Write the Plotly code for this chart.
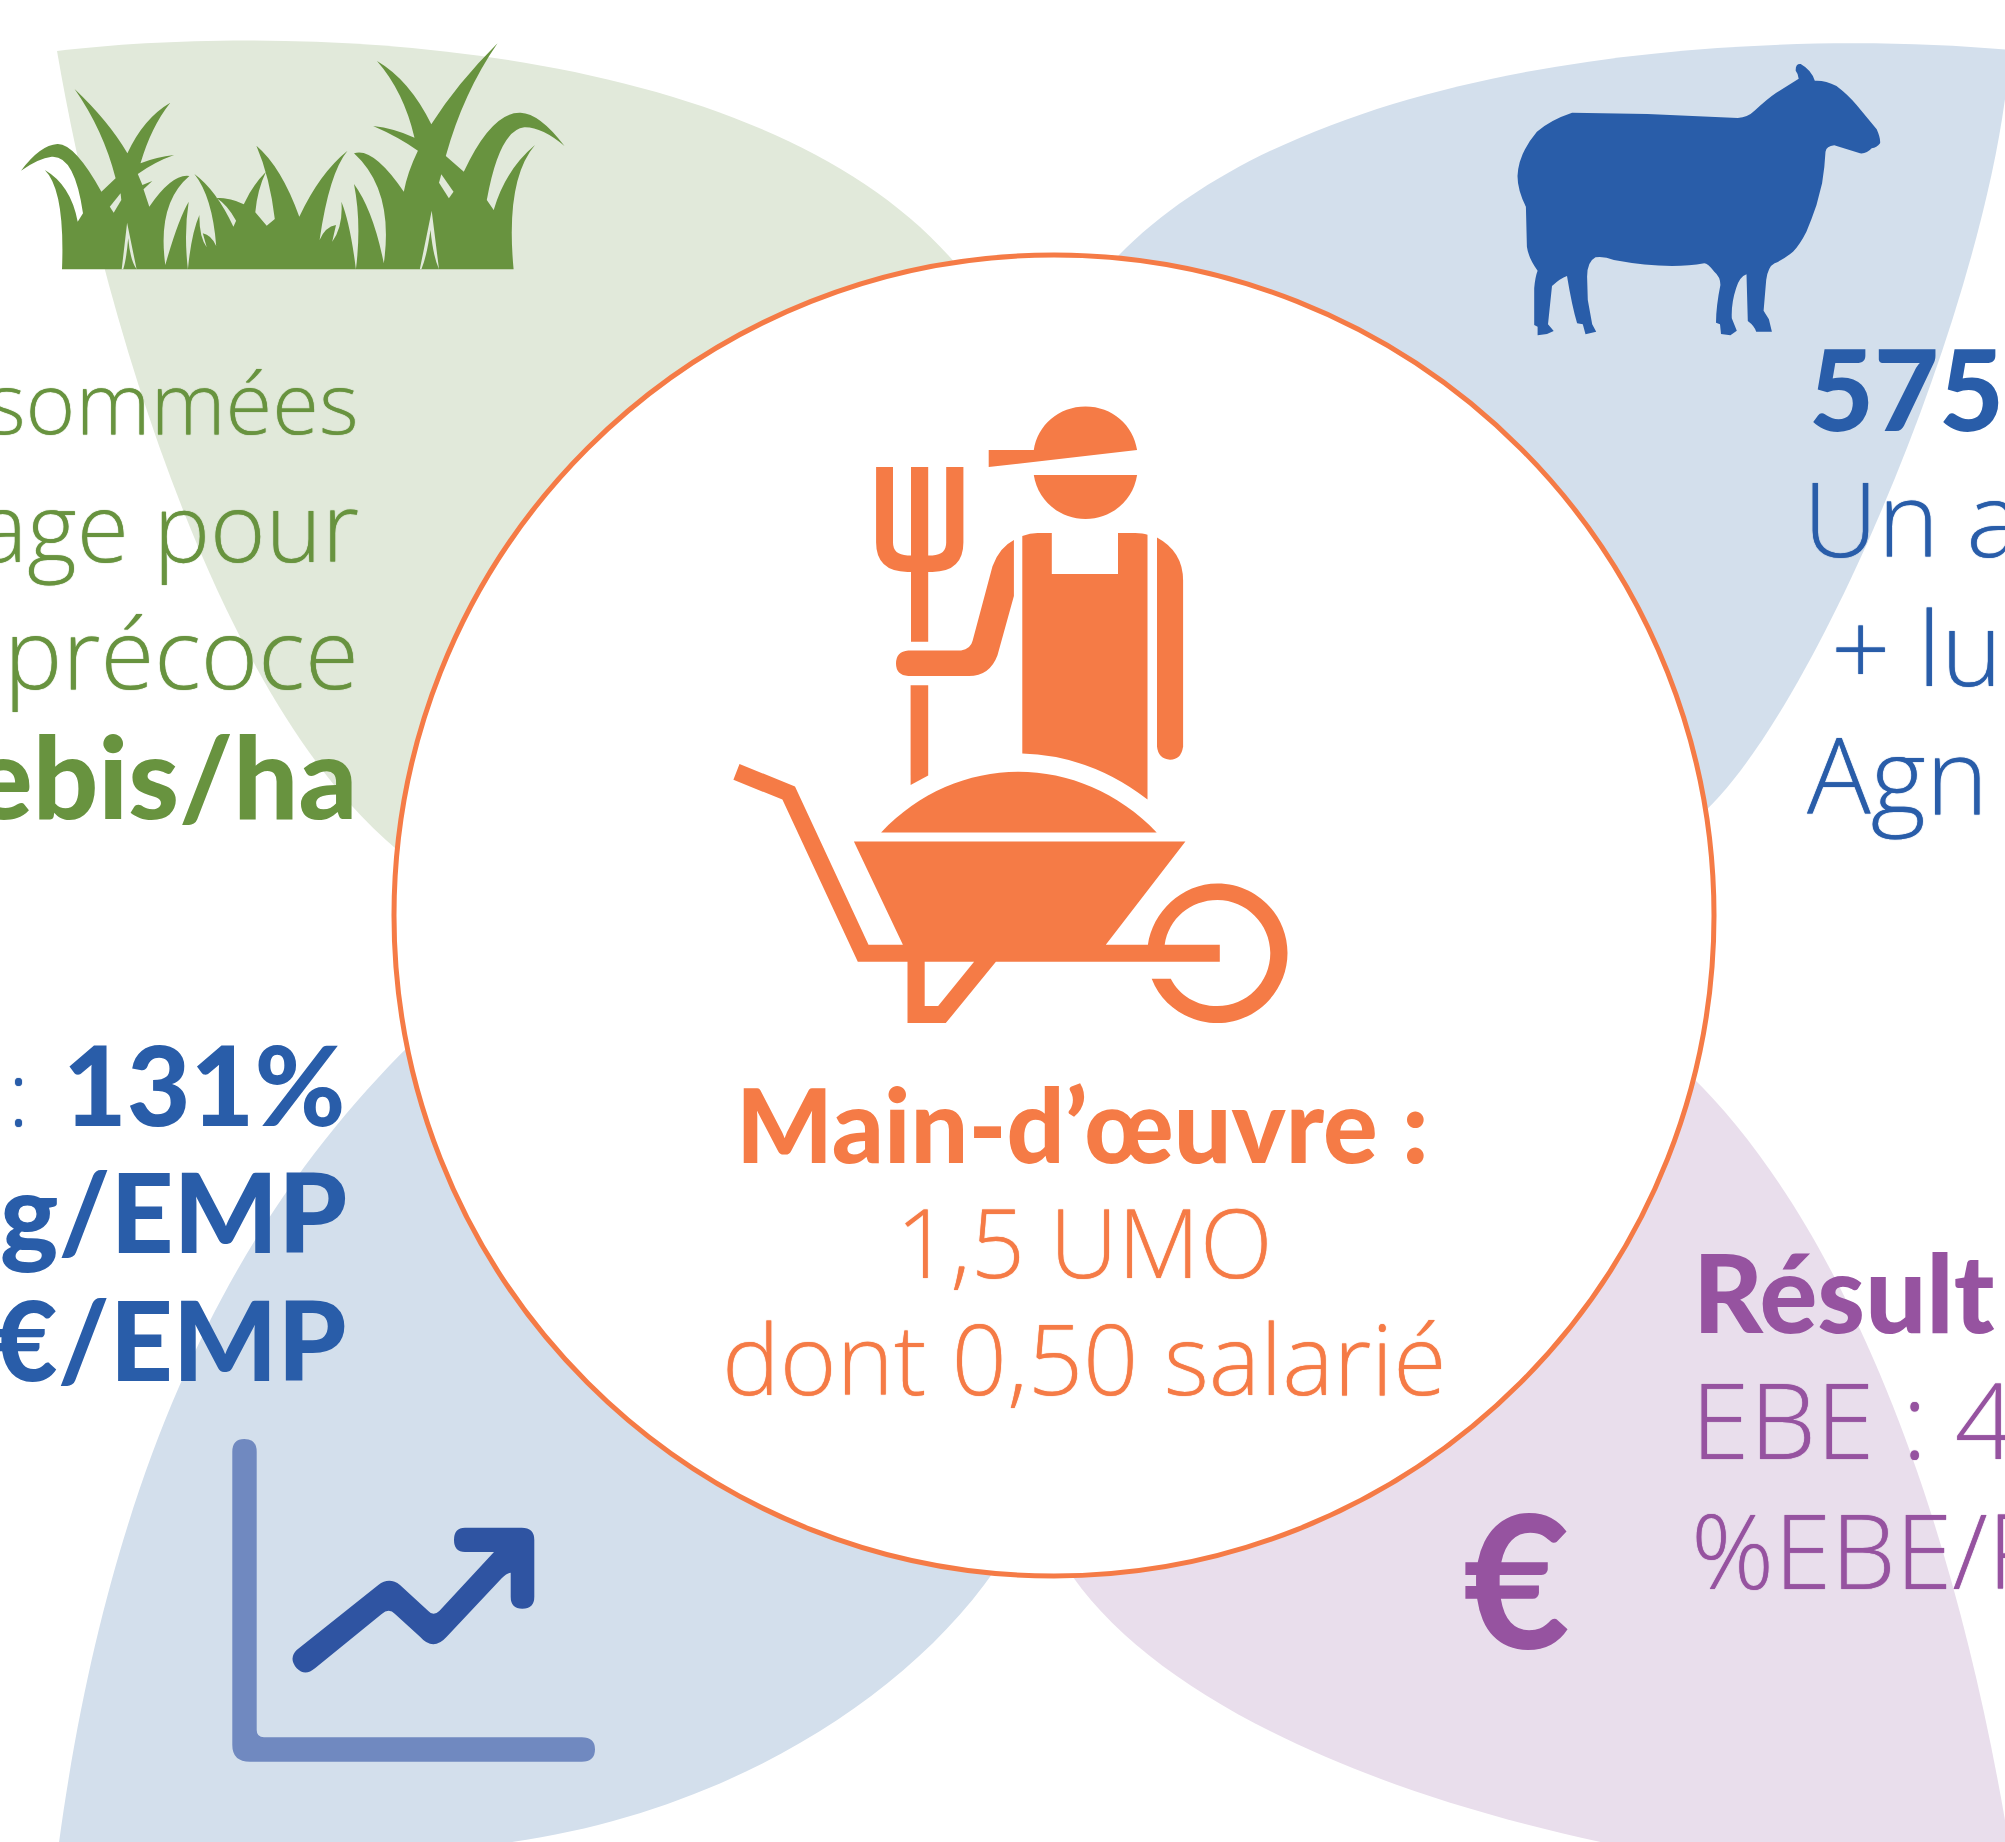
import re
import plotly.graph_objects as go

W, H = 2005, 1842
GREEN, BLUE, ORANGE, PURPLE = "#68933f", "#295da9", "#f57b46", "#9653a0"
LIGHT = "Open Sans"
BOLD = "Lato"
DESCENT = {"Open Sans": 0.293, "Lato": 0.213}

left_lines = ["sommées", "age pour", "précoce"]
left_bold = ["ebis/ha"]
right_top_bold = ["575"]
right_top = ["Un a", "+ lu", "Agn"]
left_low_light = [":"]
left_low_bold = ["131%", "g/EMP", "€/EMP"]
centre_bold = ["Main-d’œuvre :"]
centre = ["1,5 UMO", "dont 0,50 salarié"]
right_low_bold = ["Résult"]
right_low = ["EBE : 4", "%EBE/PB"]
euro = ["€"]

# text, anchor x, baseline y, size, colour, weight, family, xanchor
texts = [
    (left_lines[0], 360, 435, 85, GREEN, 300, LIGHT, "right"),
    (left_lines[1], 360, 563, 95, GREEN, 300, LIGHT, "right"),
    (left_lines[2], 360, 690, 98, GREEN, 300, LIGHT, "right"),
    (left_bold[0], 358, 819, 115, GREEN, 900, BOLD, "right"),
    (right_top_bold[0], 1808, 432, 112, BLUE, 900, BOLD, "left"),
    (right_top[0], 1802, 558, 104, BLUE, 300, LIGHT, "left"),
    (right_top[1], 1830, 687, 104, BLUE, 300, LIGHT, "left"),
    (right_top[2], 1806, 815, 106, BLUE, 300, LIGHT, "left"),
    (left_low_light[0], 30, 1127, 88, BLUE, 300, LIGHT, "right"),
    (left_low_bold[0], 346, 1127, 110, BLUE, 900, BOLD, "right"),
    (left_low_bold[1], 348, 1254, 110, BLUE, 900, BOLD, "right"),
    (left_low_bold[2], 348, 1382, 110, BLUE, 900, BOLD, "right"),
    (centre_bold[0], 1082, 1164, 102, ORANGE, 900, BOLD, "center"),
    (centre[0], 1084, 1279, 95, ORANGE, 300, LIGHT, "center"),
    (centre[1], 1084, 1396, 97, ORANGE, 300, LIGHT, "center"),
    (right_low_bold[0], 1692, 1334, 108, PURPLE, 900, BOLD, "left"),
    (right_low[0], 1690, 1460, 106, PURPLE, 300, LIGHT, "left"),
    (right_low[1], 1690, 1590, 103, PURPLE, 300, LIGHT, "left"),
    (euro[0], 1516, 1650, 185, PURPLE, 700, BOLD, "center"),
]


def local(path, ox, oy, kx, ky):
    """Convert a path drawn in an icon's own grid into page units."""
    i = [0]

    def sub(m):
        v = float(m.group())
        r = v / kx + ox if i[0] % 2 == 0 else v / ky + oy
        i[0] += 1
        return f"{r:.1f}"
    return re.sub(r"\d+(?:\.\d+)?", sub, path)


petals = [
    ("#e1e9da", "M 57,51 C 300,22 780,40 965,275 L 700,600 L 410,860 "
                "C 225,720 105,330 57,51 Z"),
    ("#d3dfec", "M 2010,50 C 1770,28 1300,50 1105,270 L 1400,600 L 1695,820 "
                "C 1810,727 1995,290 2010,50 Z"),
    ("#d3dfec", "M 58,1850 C 117,1408 270,1180 420,1035 L 700,1300 L 1005,1555 "
                "C 900,1720 660,1850 400,1850 Z"),
    ("#e9deec", "M 1690,1075 C 1830,1210 1950,1480 2010,1850 L 1640,1850 "
                "C 1380,1800 1150,1700 1065,1565 L 1400,1300 Z"),
]

grass = ("M 162,718 Q 170,480 117,420 Q 185,465 203,575 L 217,550 Q 195,375 135,380 "
         "Q 100,385 55,422 Q 105,345 150,342 Q 195,340 265,485 L 302,445 Q 270,300 195,177 "
         "Q 285,275 333,370 Q 375,265 445,218 Q 395,290 367,400 Q 410,380 455,375 "
         "Q 405,395 360,432 L 372,465 L 398,453 L 375,478 L 390,530 Q 450,430 495,438 "
         "Q 410,520 432,705 Q 465,570 493,515 Q 480,610 491,718 Q 500,610 521,555 "
         "Q 520,620 540,652 L 530,610 Q 552,615 565,648 Q 555,500 508,432 Q 565,480 610,590 "
         "L 617,572 Q 595,525 565,503 Q 605,503 637,523 Q 660,465 695,425 Q 672,480 667,547 "
         "L 697,587 L 718,567 Q 705,440 670,347 Q 735,410 782,560 Q 835,430 908,362 "
         "Q 860,430 835,630 Q 850,590 878,585 L 868,635 Q 897,590 892,515 Q 915,580 930,718 "
         "Q 945,580 925,462 Q 975,540 1003,700 Q 1030,480 925,370 Q 975,350 1055,485 "
         "Q 1065,425 1092,362 Q 1040,320 975,288 Q 1030,295 1083,323 Q 1055,185 985,93 "
         "Q 1070,150 1127,283 Q 1195,160 1300,40 Q 1210,190 1165,378 L 1212,425 "
         "Q 1285,245 1360,248 Q 1410,250 1475,348 Q 1415,290 1370,292 Q 1305,300 1272,510 "
         "L 1290,540 Q 1320,420 1398,345 Q 1320,450 1342,718 Z")
grass_gaps = [
    "M 318,718 L 332,578 L 357,718 Q 340,690 335,625 Q 330,690 322,718 Z",
    "M 1097,718 L 1128,542 L 1147,718 Q 1132,680 1125,600 Q 1115,680 1101,718 Z",
    "M 287,530 L 315,490 L 317,510 L 297,548 Z",
    "M 1147,458 L 1153,433 L 1185,485 L 1173,505 Z",
]

sheep = ("M 112,408 Q 115,340 170,275 Q 210,240 275,218 L 500,222 L 770,234 Q 800,232 820,212 "
         "Q 860,175 885,158 L 952,116 Q 950,100 943,92 Q 942,70 958,72 Q 990,90 1000,122 "
         "Q 1030,120 1065,138 Q 1100,165 1125,195 L 1185,268 Q 1197,295 1195,310 Q 1185,323 1170,325 "
         "Q 1155,342 1135,340 L 1058,316 Q 1035,318 1032,335 Q 1030,380 1022,430 L 1005,495 "
         "Q 990,540 975,575 Q 955,615 935,635 Q 905,660 880,670 Q 860,680 855,720 L 847,812 "
         "L 863,838 L 872,875 L 825,875 Q 820,858 800,843 L 796,703 Q 775,710 765,745 Q 750,790 752,835 "
         "L 767,872 L 748,886 L 720,882 L 717,853 L 705,848 Q 705,800 718,735 Q 718,710 700,695 "
         "Q 680,670 670,670 Q 560,690 400,660 Q 370,648 345,652 Q 320,665 320,710 L 322,780 L 335,853 "
         "L 347,875 L 315,883 L 307,853 L 290,850 Q 275,800 260,708 Q 240,715 215,738 L 203,853 "
         "L 220,873 L 200,882 L 172,886 L 172,860 L 162,855 L 162,745 Q 165,710 172,692 "
         "Q 145,655 140,620 L 137,500 Q 112,450 112,408 Z")

farmer = [
    "M 702,145 L 820,145 C 830,85 885,40 955,40 C 1025,40 1080,85 1090,145 L 702,186 Z",
    "M 820,205 L 1090,205 C 1080,265 1025,311 955,311 C 885,311 830,265 820,205 Z",
    "M 408,186 L 452,186 L 452,368 Q 452,398 490,399 L 499,399 L 499,186 L 544,186 L 544,399 "
    "L 555,399 Q 591,398 591,368 L 591,186 L 636,186 L 636,368 Q 636,438 555,439 L 544,439 "
    "L 544,607 L 499,607 L 499,439 L 490,439 Q 408,438 408,368 Z",
    "M 498,712 L 544,712 L 544,930 L 498,953 Z",
    "M 768,362 L 768,497 L 725,640 Q 705,690 650,690 L 492,690 Q 460,688 460,660 Q 460,630 492,628 "
    "L 630,628 Q 655,625 660,605 L 712,425 Q 730,380 768,362 Z",
    "M 790,352 Q 810,345 830,345 L 867,345 L 867,444 L 1040,444 L 1040,345 L 1085,345 Q 1105,345 1117,349 "
    "L 1117,988 Q 970,882 790,877 Z",
    "M 1142,356 Q 1210,390 1210,460 L 1210,860 Q 1205,892 1176,892 Q 1145,890 1142,860 Z",
    "M 421,1067 C 520,970 650,921 780,921 C 910,921 1040,970 1141,1067 Z",
    "M 350,1089 L 1216,1089 L 1008,1338 L 1118,1338 C 1130,1260 1205,1190 1300,1190 C 1400,1190 1483,1265 1483,1358 "
    "C 1483,1450 1400,1527 1300,1527 C 1225,1527 1155,1485 1128,1420 L 1178,1420 C 1200,1460 1245,1486 1300,1486 "
    "C 1375,1486 1438,1430 1438,1358 C 1438,1288 1375,1230 1300,1230 C 1230,1230 1172,1275 1162,1338 L 1306,1338 "
    "L 1306,1379 L 721,1379 L 590,1527 L 490,1527 L 490,1379 L 360,1379 L 163,988 L 35,940 L 51,902 L 196,956 "
    "L 388,1338 L 478,1338 Z",
]
barrow_hole = "M 535,1379 L 664,1379 L 570,1486 L 535,1486 Z"

axes_icon = ("M 97,95 Q 97,57 133,57 Q 170,57 170,95 L 170,930 Q 170,952 192,952 L 1145,952 "
             "Q 1185,952 1185,988 Q 1185,1025 1145,1025 L 150,1025 Q 97,1025 97,975 Z")
arrow_icon = ("M 290,690 L 535,495 Q 568,470 600,495 L 685,573 Q 700,590 718,573 L 882,396 L 795,396 "
              "Q 762,396 762,360 Q 762,323 795,323 L 965,323 Q 1003,323 1003,360 L 1003,530 "
              "Q 1003,566 967,566 Q 932,566 932,530 L 932,458 Q 920,460 905,475 L 740,650 "
              "Q 700,695 660,650 L 585,582 Q 567,562 545,582 L 345,745 Q 315,770 290,745 "
              "Q 265,715 290,690 Z")


def solid(path, colour):
    return dict(type="path", path=path, fillcolor=colour, line=dict(width=0),
                xref="x", yref="y", layer="above")


shapes = [solid(p, c) for c, p in petals]
shapes.append(solid(local(grass, 0, 30, 2.613, 3), GREEN))
shapes += [solid(local(g, 0, 30, 2.613, 3), "#e1e9da") for g in grass_gaps]
shapes.append(solid(local(sheep, 1480, 40, 2.987, 3), BLUE))
shapes.append(solid(local(axes_icon, 200, 1420, 3, 3), "#7089c0"))
shapes.append(solid(local(arrow_icon, 200, 1420, 3, 3), "#2f54a2"))
shapes.append(dict(type="circle", x0=394, y0=255, x1=1714, y1=1576, xref="x", yref="y",
                   fillcolor="white", line=dict(color=ORANGE, width=5), layer="above"))
shapes += [solid(local(f, 720, 390, 2.613, 2.412), ORANGE) for f in farmer]
shapes.append(solid(local(barrow_hole, 720, 390, 2.613, 2.412), "white"))

annotations = [
    dict(text=t, x=x, y=y + DESCENT[f] * s, xref="x", yref="y", xanchor=a, yanchor="bottom",
         showarrow=False, borderpad=0,
         font=dict(size=s, color=c, family=f, weight=w,
                   shadow=f"0 0 1px {c}" if w == 300 else "none"))
    for t, x, y, s, c, w, f, a in texts
]

fig = go.Figure()
fig.update_layout(
    width=W, height=H, margin=dict(l=0, r=0, t=0, b=0), autosize=False,
    paper_bgcolor="white", plot_bgcolor="white", showlegend=False,
    xaxis=dict(range=[0, W], visible=False, fixedrange=True),
    yaxis=dict(range=[H, 0], visible=False, fixedrange=True),
    shapes=shapes, annotations=annotations,
)
fig.write_html("out.html", config=dict(displayModeBar=False),
               post_script="document.body.style.margin='0';document.body.style.overflow='hidden';")
